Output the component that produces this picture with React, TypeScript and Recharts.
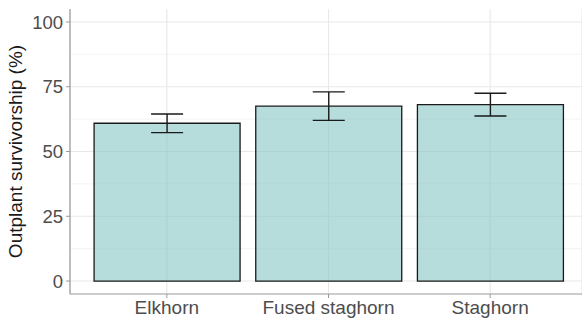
import { BarChart, Bar, XAxis, YAxis, CartesianGrid, ErrorBar } from "recharts";

const categories = ["Elkhorn", "Fused staghorn", "Staghorn"];
const survivorship = [60.9, 67.5, 68.1];
const stdError = [3.6, 5.5, 4.4];
const yTicks = [0, 25, 50, 75, 100];
const yMinorTicks = [12.5, 37.5, 62.5, 87.5];

const data = categories.map((c, i) => ({
  species: c,
  value: survivorship[i],
  se: stdError[i],
}));

const font = "'Liberation Sans', Arial, sans-serif";
const border = "#9a9a9a";

export default function App() {
  return (
    <div
      style={{
        width: 582,
        height: 320,
        overflow: "hidden",
        background: "#fff",
        fontFamily: font,
      }}
    >
      <style>{"html, body { margin: 0; padding: 0; overflow: hidden; }"}</style>
      <BarChart
        width={582}
        height={320}
        data={data}
        margin={{ top: 9, right: 0, bottom: 0, left: 0 }}
        barCategoryGap="5%"
      >
        {/* minor grid */}
        <CartesianGrid
          vertical={false}
          horizontalValues={yMinorTicks}
          stroke="#ededed"
          strokeWidth={0.6}
        />
        {/* major grid */}
        <CartesianGrid horizontalValues={yTicks} stroke="#e8e8e8" strokeWidth={1.1} />

        <XAxis
          dataKey="species"
          height={26}
          padding={{ left: 16, right: 11 }}
          tickSize={4}
          tickMargin={3}
          axisLine={{ stroke: border, strokeWidth: 1.2 }}
          tickLine={{ stroke: border }}
          tick={{ fontSize: 19, fill: "#4d4d4d", fontFamily: font }}
        />
        {/* top panel border */}
        <XAxis
          xAxisId="top"
          orientation="top"
          dataKey="species"
          height={0}
          tick={false}
          tickLine={false}
          axisLine={{ stroke: border, strokeWidth: 1.2 }}
        />
        <YAxis
          width={70}
          domain={[-5, 105]}
          ticks={yTicks}
          tickSize={4}
          tickMargin={3}
          axisLine={{ stroke: border, strokeWidth: 1.2 }}
          tickLine={{ stroke: border }}
          tick={{ fontSize: 18.5, fill: "#4d4d4d", fontFamily: font }}
          label={{
            value: "Outplant survivorship (%)",
            angle: -90,
            position: "insideLeft",
            offset: 15,
            style: { textAnchor: "middle", fontSize: 19, fill: "#1a1a1a", fontFamily: font },
          }}
        />
        <Bar
          dataKey="value"
          fill="#87c5c5"
          fillOpacity={0.6}
          stroke="#1a1a1a"
          strokeWidth={1.3}
          isAnimationActive={false}
        >
          <ErrorBar dataKey="se" width={16} stroke="#1a1a1a" strokeWidth={1.4} direction="y" />
        </Bar>
      </BarChart>
    </div>
  );
}
